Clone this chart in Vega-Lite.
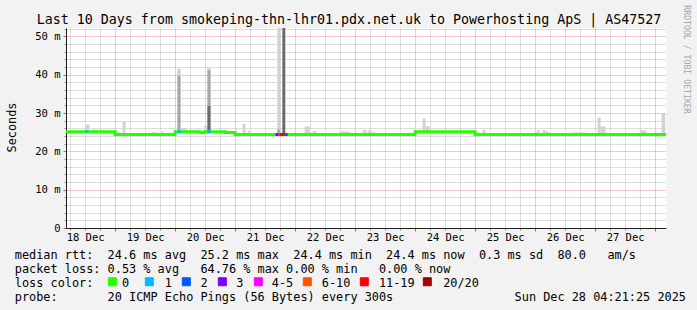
{
  "$schema": "https://vega.github.io/schema/vega-lite/v6.json",
  "width": 600,
  "height": 200,
  "autosize": {"type": "none"},
  "padding": {"left": 66, "top": 28, "right": 31, "bottom": 82},
  "background": "#f2f2f2",
  "config": {
    "font": "DejaVu Sans Mono",
    "view": {"fill": "white", "stroke": null},
    "axis": {"labelColor": "black", "titleColor": "black", "titleFontWeight": "normal", "labelFont": "DejaVu Sans Mono", "titleFont": "DejaVu Sans Mono"},
    "legend": {"labelFont": "DejaVu Sans Mono"}
  },
  "datasets": {
    "smoke": [
      {"t1": "2025-12-18T12:12:00Z", "t2": "2025-12-18T13:48:00Z", "lo": 25.1, "hi": 27.0, "shade": "light"},
      {"t1": "2025-12-18T15:00:00Z", "t2": "2025-12-18T17:00:00Z", "lo": 25.1, "hi": 25.7, "shade": "light"},
      {"t1": "2025-12-19T03:00:00Z", "t2": "2025-12-19T04:12:00Z", "lo": 24.4, "hi": 27.8, "shade": "light"},
      {"t1": "2025-12-19T08:36:00Z", "t2": "2025-12-19T09:24:00Z", "lo": 24.4, "hi": 24.9, "shade": "light"},
      {"t1": "2025-12-19T14:36:00Z", "t2": "2025-12-19T16:36:00Z", "lo": 24.4, "hi": 25.0, "shade": "light"},
      {"t1": "2025-12-19T18:36:00Z", "t2": "2025-12-19T19:24:00Z", "lo": 24.4, "hi": 25.2, "shade": "light"},
      {"t1": "2025-12-20T00:53:00Z", "t2": "2025-12-20T02:12:00Z", "lo": 25.1, "hi": 39.8, "shade": "medium"},
      {"t1": "2025-12-20T00:53:00Z", "t2": "2025-12-20T02:12:00Z", "lo": 39.8, "hi": 41.6, "shade": "light"},
      {"t1": "2025-12-20T02:36:00Z", "t2": "2025-12-20T04:36:00Z", "lo": 25.1, "hi": 26.1, "shade": "light"},
      {"t1": "2025-12-20T06:36:00Z", "t2": "2025-12-20T07:48:00Z", "lo": 25.1, "hi": 25.4, "shade": "light"},
      {"t1": "2025-12-20T11:36:00Z", "t2": "2025-12-20T12:48:00Z", "lo": 25.0, "hi": 26.7, "shade": "light"},
      {"t1": "2025-12-20T12:53:00Z", "t2": "2025-12-20T14:12:00Z", "lo": 25.1, "hi": 31.9, "shade": "dark"},
      {"t1": "2025-12-20T12:53:00Z", "t2": "2025-12-20T14:12:00Z", "lo": 31.9, "hi": 41.2, "shade": "medium"},
      {"t1": "2025-12-20T12:53:00Z", "t2": "2025-12-20T14:12:00Z", "lo": 41.2, "hi": 41.9, "shade": "light"},
      {"t1": "2025-12-20T17:00:00Z", "t2": "2025-12-20T19:00:00Z", "lo": 25.1, "hi": 25.4, "shade": "light"},
      {"t1": "2025-12-21T03:00:00Z", "t2": "2025-12-21T04:12:00Z", "lo": 24.4, "hi": 27.2, "shade": "light"},
      {"t1": "2025-12-21T05:00:00Z", "t2": "2025-12-21T05:48:00Z", "lo": 24.4, "hi": 25.5, "shade": "light"},
      {"t1": "2025-12-21T16:53:00Z", "t2": "2025-12-21T18:05:00Z", "lo": 24.4, "hi": 25.8, "shade": "medium"},
      {"t1": "2025-12-21T16:53:00Z", "t2": "2025-12-21T18:05:00Z", "lo": 25.8, "hi": 60, "shade": "light"},
      {"t1": "2025-12-21T18:53:00Z", "t2": "2025-12-21T20:05:00Z", "lo": 24.4, "hi": 60, "shade": "dark"},
      {"t1": "2025-12-22T03:48:00Z", "t2": "2025-12-22T05:48:00Z", "lo": 24.4, "hi": 26.5, "shade": "light"},
      {"t1": "2025-12-22T07:00:00Z", "t2": "2025-12-22T08:36:00Z", "lo": 24.4, "hi": 25.3, "shade": "light"},
      {"t1": "2025-12-22T17:48:00Z", "t2": "2025-12-22T21:48:00Z", "lo": 24.4, "hi": 25.2, "shade": "light"},
      {"t1": "2025-12-23T03:00:00Z", "t2": "2025-12-23T04:36:00Z", "lo": 24.4, "hi": 25.6, "shade": "light"},
      {"t1": "2025-12-23T05:00:00Z", "t2": "2025-12-23T06:36:00Z", "lo": 24.4, "hi": 25.5, "shade": "light"},
      {"t1": "2025-12-23T07:00:00Z", "t2": "2025-12-23T07:48:00Z", "lo": 24.4, "hi": 25.2, "shade": "light"},
      {"t1": "2025-12-24T03:00:00Z", "t2": "2025-12-24T04:12:00Z", "lo": 25.1, "hi": 28.6, "shade": "light"},
      {"t1": "2025-12-24T04:12:00Z", "t2": "2025-12-24T05:48:00Z", "lo": 25.1, "hi": 26.5, "shade": "light"},
      {"t1": "2025-12-25T03:00:00Z", "t2": "2025-12-25T04:12:00Z", "lo": 24.4, "hi": 25.7, "shade": "light"},
      {"t1": "2025-12-26T00:36:00Z", "t2": "2025-12-26T01:48:00Z", "lo": 24.4, "hi": 25.5, "shade": "light"},
      {"t1": "2025-12-26T03:00:00Z", "t2": "2025-12-26T04:12:00Z", "lo": 24.4, "hi": 25.6, "shade": "light"},
      {"t1": "2025-12-26T04:12:00Z", "t2": "2025-12-26T05:24:00Z", "lo": 24.4, "hi": 25.2, "shade": "light"},
      {"t1": "2025-12-26T15:00:00Z", "t2": "2025-12-26T20:36:00Z", "lo": 24.4, "hi": 24.9, "shade": "light"},
      {"t1": "2025-12-27T01:00:00Z", "t2": "2025-12-27T02:12:00Z", "lo": 24.4, "hi": 28.8, "shade": "light"},
      {"t1": "2025-12-27T02:12:00Z", "t2": "2025-12-27T04:12:00Z", "lo": 24.4, "hi": 26.5, "shade": "light"},
      {"t1": "2025-12-27T17:48:00Z", "t2": "2025-12-27T20:36:00Z", "lo": 24.4, "hi": 25.5, "shade": "light"},
      {"t1": "2025-12-28T02:36:00Z", "t2": "2025-12-28T04:00:00Z", "lo": 24.4, "hi": 30.0, "shade": "light"}
    ],
    "median": [
      {"t": "2025-12-18T04:21:25Z", "ms": 25.1},
      {"t": "2025-12-19T00:00:00Z", "ms": 24.4},
      {"t": "2025-12-20T00:00:00Z", "ms": 25.1},
      {"t": "2025-12-20T10:05:00Z", "ms": 24.9},
      {"t": "2025-12-20T11:48:00Z", "ms": 25.1},
      {"t": "2025-12-20T20:12:00Z", "ms": 24.9},
      {"t": "2025-12-21T00:00:00Z", "ms": 24.4},
      {"t": "2025-12-24T00:00:00Z", "ms": 25.1},
      {"t": "2025-12-25T00:00:00Z", "ms": 24.4},
      {"t": "2025-12-28T04:21:25Z", "ms": 24.4}
    ],
    "loss": [
      {"t1": "2025-12-18T12:12:00Z", "t2": "2025-12-18T13:00:00Z", "ms": 25.1, "loss": "1"},
      {"t1": "2025-12-20T00:53:00Z", "t2": "2025-12-20T02:12:00Z", "ms": 25.1, "loss": "1"},
      {"t1": "2025-12-20T12:53:00Z", "t2": "2025-12-20T14:12:00Z", "ms": 25.1, "loss": "1"},
      {"t1": "2025-12-21T16:12:00Z", "t2": "2025-12-21T17:20:00Z", "ms": 24.4, "loss": "3"},
      {"t1": "2025-12-21T17:20:00Z", "t2": "2025-12-21T17:50:00Z", "ms": 24.4, "loss": "4-5"},
      {"t1": "2025-12-21T17:50:00Z", "t2": "2025-12-21T20:00:00Z", "ms": 24.4, "loss": "11-19"},
      {"t1": "2025-12-21T20:00:00Z", "t2": "2025-12-21T21:00:00Z", "ms": 24.4, "loss": "2"}
    ]
  },
  "resolve": {"axis": {"x": "independent", "y": "independent"}},
  "layer": [
    {
      "data": {"name": "smoke"},
      "mark": {"type": "rect", "clip": true},
      "encoding": {
        "x": {
          "field": "t1", "type": "temporal",
          "scale": {"type": "utc", "domain": [1766031685000, 1766895685000]},
          "axis": {
            "orient": "bottom",
            "values": [1766037600000, 1766059200000, 1766080800000, 1766124000000, 1766145600000, 1766167200000, 1766210400000, 1766232000000, 1766253600000, 1766296800000, 1766318400000, 1766340000000, 1766383200000, 1766404800000, 1766426400000, 1766469600000, 1766491200000, 1766512800000, 1766556000000, 1766577600000, 1766599200000, 1766642400000, 1766664000000, 1766685600000, 1766728800000, 1766750400000, 1766772000000, 1766815200000, 1766836800000, 1766858400000],
            "grid": true, "gridColor": "#8f8f8f", "gridOpacity": 0.6, "gridDash": [1, 1],
            "labels": false, "domain": false, "ticks": true, "tickSize": 2, "tickColor": "#8f8f8f",
            "title": null
          }
        },
        "x2": {"field": "t2"},
        "y": {
          "field": "lo", "type": "quantitative",
          "scale": {"domain": [0, 52.2], "nice": false, "zero": false},
          "axis": {
            "orient": "left", "values": [2, 4, 6, 8, 12, 14, 16, 18, 22, 24, 26, 28, 32, 34, 36, 38, 42, 44, 46, 48, 52],
            "grid": true, "gridColor": "#8f8f8f", "gridOpacity": 0.6, "gridDash": [1, 1],
            "labels": false, "domain": false, "ticks": true, "tickSize": 2, "tickColor": "#8f8f8f",
            "title": null
          }
        },
        "y2": {"field": "hi"},
        "fill": {
          "field": "shade", "type": "nominal",
          "scale": {"domain": ["light", "medium", "dark"], "range": ["#d2d2d2", "#a8a8a8", "#6b6b6b"]},
          "legend": null
        }
      }
    },
    {
      "data": {"name": "median"},
      "mark": {"type": "line", "interpolate": "step-after", "strokeWidth": 3, "color": "#26ff00"},
      "encoding": {
        "x": {
          "field": "t", "type": "temporal",
          "scale": {"type": "utc", "domain": [1766031685000, 1766895685000]},
          "axis": {
            "orient": "bottom",
            "values": [1766102400000, 1766188800000, 1766275200000, 1766361600000, 1766448000000, 1766534400000, 1766620800000, 1766707200000, 1766793600000, 1766880000000],
            "grid": true, "gridColor": "#de4f4f", "gridOpacity": 0.6, "gridDash": [1, 1],
            "labels": false, "domain": false, "ticks": true, "tickSize": 3, "tickColor": "#de4f4f",
            "title": null
          }
        },
        "y": {
          "field": "ms", "type": "quantitative",
          "scale": {"domain": [0, 52.2], "nice": false, "zero": false},
          "axis": {
            "orient": "left", "values": [0, 10, 20, 30, 40, 50],
            "grid": true, "gridColor": "#de4f4f", "gridOpacity": 0.6, "gridDash": [1, 1],
            "labelExpr": "datum.value == 0 ? '0' : datum.value + ' m'",
            "labelFontSize": 10.5, "labelPadding": 3, "labelAlign": "right", "labelBaseline": "middle",
            "domain": true, "domainColor": "#1f1f1f", "ticks": true, "tickSize": 3, "tickColor": "#de4f4f",
            "title": "Seconds", "titleFontSize": 11.875, "titleX": -55, "titleY": 99,
            "titleAngle": -90, "titleAlign": "center", "titleBaseline": "middle"
          }
        }
      }
    },
    {
      "data": {"name": "loss"},
      "mark": {"type": "rule", "strokeWidth": 3},
      "encoding": {
        "x": {
          "field": "t1", "type": "temporal",
          "scale": {"type": "utc", "domain": [1766031685000, 1766895685000]},
          "axis": {
            "orient": "bottom",
            "values": [1766059200000, 1766145600000, 1766232000000, 1766318400000, 1766404800000, 1766491200000, 1766577600000, 1766664000000, 1766750400000, 1766836800000],
            "labelExpr": "utcFormat(datum.value, '%d %b')",
            "labelFontSize": 10.5, "labelBaseline": "alphabetic", "labelPadding": 12.5, "labelAlign": "center",
            "labelOverlap": false, "labelFlush": false,
            "grid": false, "ticks": false, "domain": true, "domainColor": "#1f1f1f",
            "title": [
              "median\u00a0rtt:\u00a0\u00a024.6\u00a0ms\u00a0avg\u00a0\u00a025.2\u00a0ms\u00a0max\u00a0\u00a024.4\u00a0ms\u00a0min\u00a0\u00a024.4\u00a0ms\u00a0now\u00a0\u00a00.3\u00a0ms\u00a0sd\u00a0\u00a080.0\u00a0\u00a0\u00a0am/s",
              "packet\u00a0loss:\u00a00.53\u00a0%\u00a0avg\u00a0\u00a0\u00a064.76\u00a0%\u00a0max\u00a00.00\u00a0%\u00a0min\u00a0\u00a0\u00a00.00\u00a0%\u00a0now",
              "loss\u00a0color:\u00a0\u00a0\u00a0\u00a00\u00a0\u00a0\u00a0\u00a0\u00a01\u00a0\u00a0\u00a0\u00a02\u00a0\u00a0\u00a0\u00a03\u00a0\u00a0\u00a0\u00a04-5\u00a0\u00a0\u00a0\u00a06-10\u00a0\u00a0\u00a0\u00a011-19\u00a0\u00a0\u00a0\u00a020/20",
              "probe:\u00a0\u00a0\u00a0\u00a0\u00a0\u00a0\u00a020\u00a0ICMP\u00a0Echo\u00a0Pings\u00a0(56\u00a0Bytes)\u00a0every\u00a0300s\u00a0\u00a0\u00a0\u00a0\u00a0\u00a0\u00a0\u00a0\u00a0\u00a0\u00a0\u00a0\u00a0\u00a0\u00a0\u00a0\u00a0Sun\u00a0Dec\u00a028\u00a004:21:25\u00a02025"
            ],
            "titleFontSize": 11.875, "titleLineHeight": 13.9,
            "titleX": -51.7, "titleY": 30.5, "titleAlign": "left", "titleBaseline": "alphabetic", "titleAnchor": "start"
          }
        },
        "x2": {"field": "t2"},
        "y": {
          "field": "ms", "type": "quantitative",
          "scale": {"domain": [0, 52.2], "nice": false, "zero": false},
          "axis": {
            "orient": "right", "labels": false, "ticks": false, "domain": false, "grid": false,
            "title": "RRDTOOL / TOBI OETIKER", "titleFontSize": 8.2, "titleColor": "#a8a8a8",
            "titleAngle": 90, "titleX": 19, "titleY": 31, "titleAlign": "center", "titleBaseline": "middle"
          }
        },
        "stroke": {
          "field": "loss", "type": "nominal",
          "scale": {
            "domain": ["0", "1", "2", "3", "4-5", "6-10", "11-19", "20/20"],
            "range": ["#26ff00", "#00b8ff", "#0059ff", "#7e00ff", "#ff00ff", "#ff5500", "#ff0000", "#a10000"]
          },
          "legend": {
            "orient": "none", "legendX": 41.8, "legendY": 249,
            "direction": "horizontal", "columns": 8, "title": null,
            "symbolType": "square", "symbolSize": 64, "symbolStrokeColor": "black", "symbolStrokeWidth": 1,
            "labelExpr": "pad('', datum.value == '0' || datum.value == '1' ? 42 : datum.value == '2' || datum.value == '3' ? 41 : datum.value == '4-5' ? 63 : datum.value == '6-10' ? 76 : datum.value == '11-19' ? 85 : 1, '_')",
            "labelFontSize": 1, "labelColor": "black", "labelOpacity": 0, "labelOffset": 0,
            "columnPadding": 0, "padding": 0, "gridAlign": "each",
            "encode": {
              "symbols": {
                "update": {
                  "fill": {"scale": "stroke", "field": "value"},
                  "stroke": {"value": "black"},
                  "strokeWidth": {"value": 1},
                  "opacity": {"value": 1}
                }
              }
            }
          }
        }
      }
    },
    {
      "mark": {"type": "point", "shape": "triangle-up", "filled": true, "size": 30, "color": "#801f1f", "opacity": 1},
      "encoding": {
        "x": {
          "datum": 1766031685000,
          "type": "temporal",
          "scale": {"type": "utc", "domain": [1766031685000, 1766895685000]},
          "axis": {
            "orient": "top", "labels": false, "ticks": false, "domain": false, "grid": false,
            "title": "Last 10 Days from smokeping-thn-lhr01.pdx.net.uk to Powerhosting ApS | AS47527",
            "titleFontSize": 13.3, "titleX": 282.5, "titleY": -4.5, "titleAlign": "center", "titleBaseline": "alphabetic"
          }
        },
        "y": {"datum": 53.5, "type": "quantitative", "scale": {"domain": [0, 52.2], "nice": false, "zero": false}, "axis": null}
      }
    },
    {
      "mark": {"type": "point", "shape": "triangle-right", "filled": true, "size": 30, "color": "#801f1f", "opacity": 1},
      "encoding": {
        "x": {
          "datum": 1766900005000,
          "type": "temporal",
          "scale": {"type": "utc", "domain": [1766031685000, 1766895685000]},
          "axis": null
        },
        "y": {"datum": 0, "type": "quantitative", "scale": {"domain": [0, 52.2], "nice": false, "zero": false}, "axis": null}
      }
    }
  ]
}
